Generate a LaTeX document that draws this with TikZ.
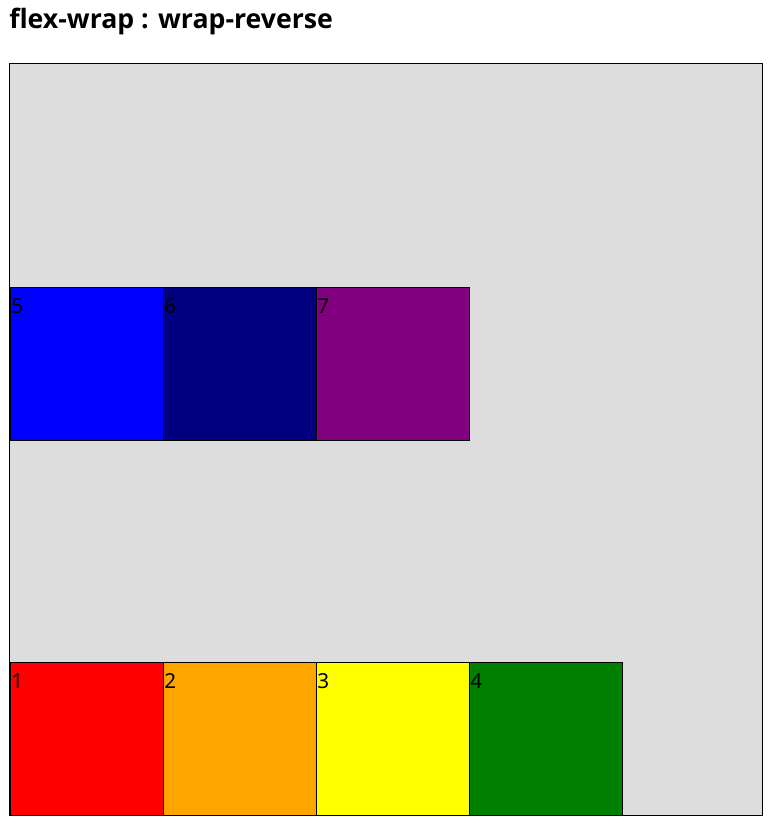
\documentclass[tikz,border=0pt]{standalone}
\usepackage{fontspec}
\setmainfont{Noto Sans}
\newfontfamily\headfont{Open Sans}[UprightFont=* Bold]
\usepackage{tikz}
\usetikzlibrary{positioning}
\definecolor{Panel}{HTML}{DDDDDD}
\definecolor{Navy}{HTML}{000080}
\definecolor{Purple}{HTML}{800080}
\definecolor{Orange}{HTML}{FFA500}
\definecolor{Yellow}{HTML}{FFFF00}
\definecolor{Green}{HTML}{008000}
\tikzset{
  panel/.style={draw=black,line width=0.75pt,fill=Panel},
  item/.style={draw=black,line width=0.75pt,minimum width=114.75pt,minimum height=114.75pt,
    inner sep=0pt,outer sep=0pt,anchor=north west},
  num/.style={anchor=base west,inner sep=0pt,xshift=0.4pt,yshift=-19.6pt,font=\fontsize{15.5}{18}\selectfont},
  heading/.style={anchor=base west,inner sep=0pt,font=\headfont\fontsize{20}{24}\selectfont}
}

\begin{document}
\begin{tikzpicture}[x=0.75pt,y=-0.75pt,label distance=0pt]
  \useasboundingbox (0,0) rectangle (778,831);
  \node[heading] (title) at (9,28.5) {flex-wrap : wrap-reverse};
  \draw[panel] (9.5,63.5) rectangle (762.5,815.5);

  % first line, at the bottom
  \node[item,fill=red,label={[num]north west:1}] (one) at (10.5,662.5) {};
  \node[item,fill=Orange,right=0pt of one,label={[num]north west:2}] (two) {};
  \node[item,fill=Yellow,right=0pt of two,label={[num]north west:3}] (three) {};
  \node[item,fill=Green,right=0pt of three,label={[num]north west:4}] (four) {};

  % second line
  \node[item,fill=blue,label={[num]north west:5}] (five) at (10.5,287.5) {};
  \node[item,fill=Navy,right=0pt of five,label={[num]north west:6}] (six) {};
  \node[item,fill=Purple,right=0pt of six,label={[num]north west:7}] (seven) {};
\end{tikzpicture}
\end{document}
